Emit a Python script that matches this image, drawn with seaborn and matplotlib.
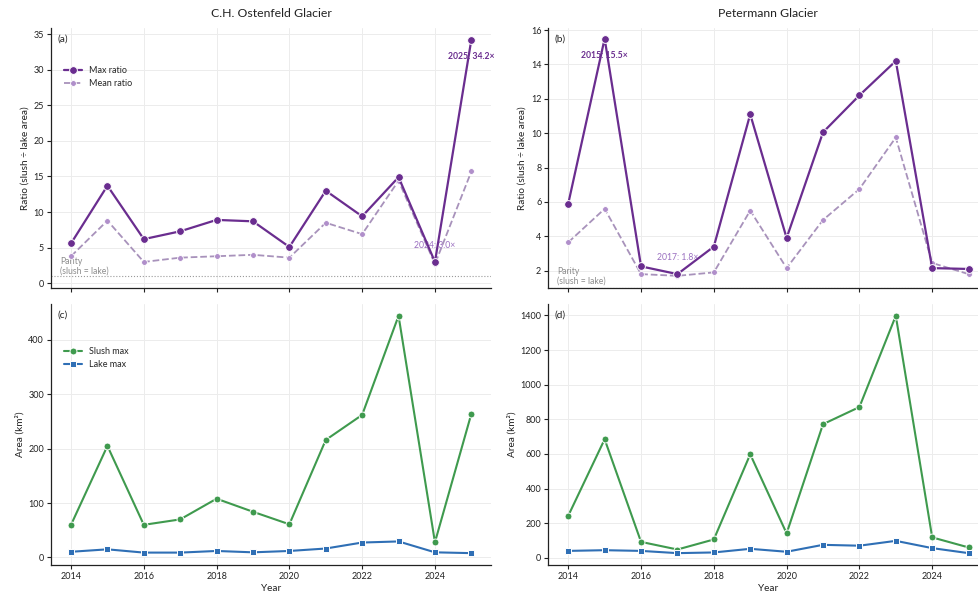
import matplotlib
matplotlib.use("Agg")
import matplotlib.pyplot as plt
import matplotlib.transforms as mtrans
import numpy as np
import pandas as pd
import seaborn as sns

# ---------------- data ----------------
years = list(range(2014, 2026))
xtick_years = [2014, 2016, 2018, 2020, 2022, 2024]

ost_max_ratio = [5.6, 13.7, 6.2, 7.3, 8.9, 8.7, 5.1, 13.0, 9.4, 14.9, 3.0, 34.2]
ost_mean_ratio = [3.8, 8.8, 3.0, 3.6, 3.8, 4.0, 3.6, 8.5, 6.9, 14.4, 2.7, 15.7]
pet_max_ratio = [5.9, 15.5, 2.25, 1.8, 3.4, 11.1, 3.9, 10.05, 12.2, 14.2, 2.15, 2.1]
pet_mean_ratio = [3.65, 5.6, 1.8, 1.7, 1.9, 5.5, 2.15, 4.95, 6.75, 9.75, 2.45, 1.8]

ost_slush_max = [60, 205, 60, 70, 108, 84, 61, 216, 262, 444, 28, 264]
ost_lake_max = [10.5, 15, 9, 9, 12, 9.5, 12, 16.5, 27.5, 29.5, 9.5, 8]
pet_slush_max = [243, 685, 92, 48, 106, 598, 141, 772, 871, 1398, 118, 60]
pet_lake_max = [40, 44, 40, 27, 31, 52, 35, 75, 70, 98, 56, 27]

glaciers = ["C.H. Ostenfeld Glacier", "Petermann Glacier"]
panel_letters = ["(a)", "(b)", "(c)", "(d)"]

# ---------------- style ----------------
sns.set_theme(style="ticks")
plt.rcParams["font.family"] = ["Lato", "DejaVu Sans"]

C_MAX = "#6a2d8f"
C_MEAN = "#b08fca"
C_MEAN_LINE = "#a892bb"
C_SLUSH = "#3f9a4e"
C_LAKE = "#2f6fb5"
TXT = "#222222"

fig = plt.figure(figsize=(9.79, 5.96), dpi=100)
lefts = [0.0521, 0.560]
w = 0.4498
ax_top = [fig.add_axes([l, 0.5163, w, 0.4362]) for l in lefts]
ax_bot = [fig.add_axes([l, 0.052, w, 0.438]) for l in lefts]

ratio_sets = [(ost_max_ratio, ost_mean_ratio), (pet_max_ratio, pet_mean_ratio)]
area_sets = [(ost_slush_max, ost_lake_max), (pet_slush_max, pet_lake_max)]
ylims_top = [(-0.7, 35.8), (0.976, 16.1)]

for i in range(2):
    ax = ax_top[i]
    mx, mn = ratio_sets[i]
    sns.lineplot(x=years, y=mn, ax=ax, color=C_MEAN_LINE, lw=1.3, ls="--",
                 marker="o", markersize=4.2, markerfacecolor=C_MEAN,
                 markeredgecolor="white", markeredgewidth=0.6,
                 label="Mean ratio", zorder=3)
    sns.lineplot(x=years, y=mx, ax=ax, color=C_MAX, lw=1.6,
                 marker="o", markersize=5.6, markeredgecolor="white",
                 markeredgewidth=0.7, label="Max ratio", zorder=4)
    ax.axhline(1.0, color="#9a9a9a", lw=0.8, ls=":", zorder=1)
    trans = mtrans.blended_transform_factory(ax.transAxes, ax.transData)
    ax.text(0.02, 1.12, "Parity\n(slush = lake)", transform=trans,
            fontsize=6.2, color="#8c8c8c", ha="left", va="bottom",
            linespacing=1.1, zorder=1.5)
    # annotations of max and min
    imax = int(np.argmax(mx))
    imin = int(np.argmin(mx))
    ax.annotate(f"{years[imax]}: {mx[imax]:.1f}×", (years[imax], mx[imax]),
                xytext=(0, -12), textcoords="offset points", ha="center",
                va="center", fontsize=6.2, fontweight="bold", color=C_MAX,
                zorder=1.5)
    ax.annotate(f"{years[imin]}: {mx[imin]:.1f}×", (years[imin], mx[imin]),
                xytext=(0, 12), textcoords="offset points", ha="center",
                va="center", fontsize=6.2, color="#9a6fc0", zorder=1.5)
    ax.set_ylim(*ylims_top[i])
    ax.set_title(glaciers[i], fontsize=8.8, color=TXT, pad=8)
    ax.set_ylabel("Ratio (slush ÷ lake area)", fontsize=7.2, color=TXT,
                  labelpad=3)
    ax.tick_params(labelbottom=False)

for i in range(2):
    ax = ax_bot[i]
    sl, lk = area_sets[i]
    sns.lineplot(x=years, y=sl, ax=ax, color=C_SLUSH, lw=1.5, marker="o",
                 markersize=5.0, markeredgecolor="white", markeredgewidth=0.7,
                 label="Slush max", zorder=3)
    sns.lineplot(x=years, y=lk, ax=ax, color=C_LAKE, lw=1.5, marker="s",
                 markersize=4.8, markeredgecolor="white", markeredgewidth=0.7,
                 label="Lake max", zorder=4)
    ax.set_ylabel("Area (km²)", fontsize=7.2, color=TXT, labelpad=3)
    ax.set_xlabel("Year", fontsize=7.2, color=TXT, labelpad=2)

for k, ax in enumerate(ax_top + ax_bot):
    ax.set_xlim(2013.45, 2025.55)
    ax.set_xticks(xtick_years)
    ax.grid(True, color="#ececec", lw=0.7)
    ax.set_axisbelow(True)
    sns.despine(ax=ax)
    for s in ["left", "bottom"]:
        ax.spines[s].set_color("#222222")
        ax.spines[s].set_linewidth(0.9)
    ax.tick_params(labelsize=6.5, length=3, width=0.8, colors=TXT, pad=2)

letters_axes = [ax_top[0], ax_top[1], ax_bot[0], ax_bot[1]]
for ax, lt in zip(letters_axes, panel_letters):
    ax.text(0.015, 0.975, lt, transform=ax.transAxes, fontsize=7.2,
            color=TXT, ha="left", va="top")

# legends only on left column
for ax in (ax_top[1], ax_bot[1]):
    lg = ax.get_legend()
    if lg is not None:
        lg.remove()
h, l = ax_top[0].get_legend_handles_labels()
order = [l.index("Max ratio"), l.index("Mean ratio")]
ax_top[0].legend([h[j] for j in order], [l[j] for j in order],
                 loc="upper left", bbox_to_anchor=(0.01, 0.885), frameon=False,
                 fontsize=6.5, handlelength=2.0, labelspacing=0.45)
ax_bot[0].legend(loc="upper left", bbox_to_anchor=(0.01, 0.865), frameon=False,
                 fontsize=6.5, handlelength=2.0, labelspacing=0.45)

fig.savefig("out.png", dpi=100)
